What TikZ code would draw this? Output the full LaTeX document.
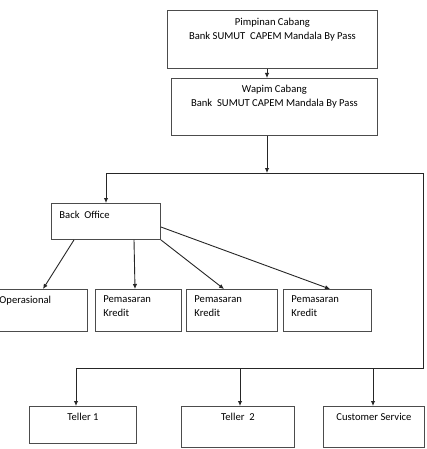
\documentclass[tikz,border=0pt]{standalone}
\usepackage{fontspec}
\setmainfont{Carlito}
\usetikzlibrary{arrows.meta,calc}
\newcommand{\bx}[5]{\parbox[c][#2pt][t]{#1pt}{\vspace*{#3pt}#4\baselineskip=14pt #5}}
\begin{document}
\begin{tikzpicture}[x=1pt,y=-1pt,
  box/.style={draw=black!70,line width=0.9pt,rectangle,inner sep=0pt,anchor=north west,font=\fontsize{10.6}{14}\selectfont},
  conn/.style={draw=black!85,line width=0.9pt},
  arr/.style={conn,-{Latex[length=5pt,width=4.5pt]}}]
\useasboundingbox (0,0) rectangle (427,449);
\node[box] (pim) at (167,10) {\bx{210}{58}{7.5}{\centering}{Pimpinan Cabang\\Bank SUMUT\ \ CAPEM Mandala By Pass}};
\node[box] (wap) at (171,78) {\bx{206}{57}{6.5}{\centering}{Wapim Cabang\\Bank\ \ SUMUT CAPEM Mandala By Pass}};
\node[box] (bo) at (51,203) {\bx{109}{36}{7.5}{\raggedright\hspace*{8pt}}{Back\ \ Office}};
\node[box] (op) at (-10,289) {\bx{97}{42}{6.5}{\raggedright\hspace*{9pt}}{Operasional}};
\node[box] (pk1) at (95,289) {\bx{86}{42}{6.5}{\raggedright\leftskip=8pt}{Pemasaran\\Kredit}};
\node[box] (pk2) at (186,289) {\bx{91}{42}{6.5}{\raggedright\leftskip=8pt}{Pemasaran\\Kredit}};
\node[box] (pk3) at (283,289) {\bx{88}{42}{6.5}{\raggedright\leftskip=8pt}{Pemasaran\\Kredit}};
\node[box] (t1) at (29,406) {\bx{107}{37}{6.5}{\centering}{Teller 1}};
\node[box] (t2) at (181,406) {\bx{113}{41}{6.5}{\centering}{Teller\ \ 2}};
\node[box] (cs) at (323,406) {\bx{101}{41}{6.5}{\centering}{Customer Service}};
\coordinate (j1) at (267,173);
\coordinate (l1) at (106,173);
\coordinate (r1) at (423,173);
\coordinate (r2) at (423,368);
\coordinate (l2) at (76,368);
\draw[arr] (pim.south -| j1) -- (wap.north -| j1);
\draw[arr] (wap.south -| j1) -- (j1);
\draw[conn] (l1) -- (r1) -- (r2) -- (l2);
\draw[arr] (l1) -- (bo.north -| l1);
\draw[arr] (l2) -- (t1.north -| l2);
\draw[arr] (240,368) -- (t2.north -| 240,0);
\draw[arr] (373,368) -- (cs.north -| 373,0);
\draw[arr] (bo.south -| 74,0) -- (op.north -| 43,0);
\draw[arr] (bo.south -| 134,0) -- (pk1.north -| 135,0);
\draw[arr] (bo.south east) -- (pk2.north -| 224,0);
\draw[arr] (bo.east |- 0,227) -- (pk3.north -| 330,0);
\end{tikzpicture}
\end{document}
